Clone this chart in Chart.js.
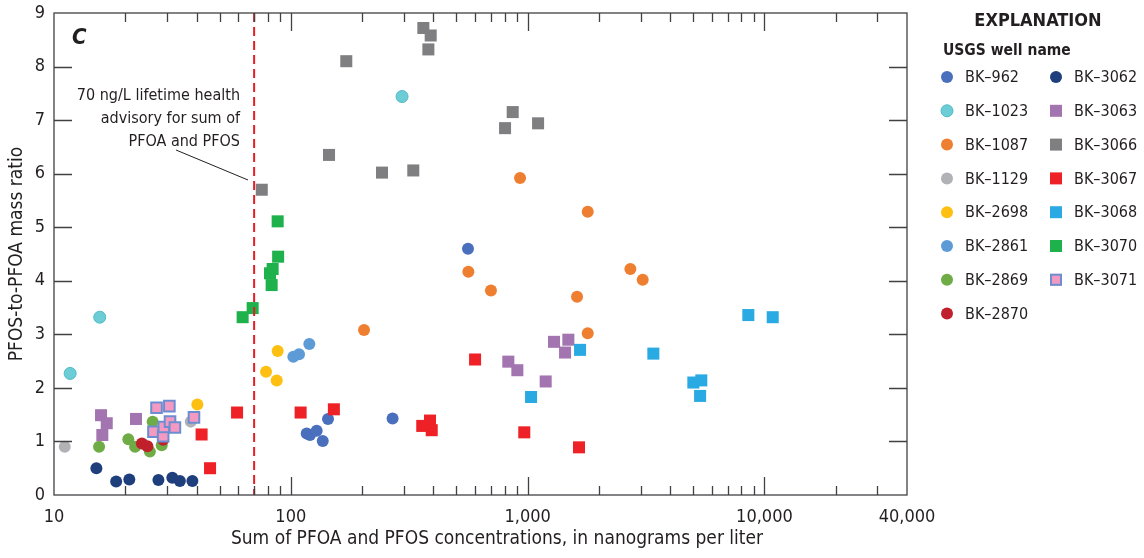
<!DOCTYPE html>
<html>
<head>
<meta charset="utf-8">
<script src="https://cdn.jsdelivr.net/npm/chart.js@4.4.1/dist/chart.umd.min.js"></script>
<style>
  html, body { margin: 0; padding: 0; background: #fff; }
  #wrap { width: 1144px; height: 558px; position: relative; }
</style>
</head>
<body>
<div id="wrap"><canvas id="chart"></canvas></div>
<script>
// [sum of PFOA+PFOS (ng/L), PFOS-to-PFOA ratio] per well
const bk962 = [[560, 4.60], [116.7, 1.15], [120.5, 1.12], [128.6, 1.20], [136.4, 1.01], [143.6, 1.42], [269, 1.43]];
const bk1023 = [[11.7, 2.27], [15.6, 3.32], [295, 7.44]];
const bk1087 = [[203.8, 3.08], [562, 4.17], [700, 3.82], [929, 5.92], [1794, 5.29], [2716, 4.22], [3062, 4.02], [1617, 3.70], [1794, 3.02]];
const bk1129 = [[11.1, 0.90], [37.8, 1.37]];
const bk2698 = [[40.3, 1.69], [78.6, 2.30], [87.2, 2.14], [88, 2.69]];
const bk2861 = [[102.5, 2.58], [108.3, 2.63], [119.7, 2.82]];
const bk2869 = [[15.5, 0.90], [20.6, 1.04], [22.0, 0.90], [25.4, 0.81], [26.1, 1.37], [28.5, 0.93]];
const bk2870 = [[23.5, 0.96], [24.8, 0.91], [28.9, 1.03]];
const bk3062 = [[15.1, 0.50], [18.3, 0.25], [20.8, 0.29], [27.6, 0.28], [31.6, 0.32], [34.0, 0.26], [38.4, 0.26]];
const bk3063 = [[15.8, 1.49], [16.7, 1.34], [16.0, 1.12], [22.2, 1.42], [829, 2.49], [905, 2.33], [1192, 2.12], [1293, 2.86], [1486, 2.90], [1439, 2.66]];
const bk3066 = [[75.4, 5.70], [145, 6.35], [171.5, 8.10], [242.7, 6.02], [329, 6.06], [362.8, 8.72], [381, 8.32], [389.7, 8.58], [803, 6.85], [865, 7.15], [1107, 6.94]];
const bk3067 = [[42.0, 1.13], [45.6, 0.50], [59.3, 1.54], [110, 1.54], [152, 1.60], [359, 1.29], [387, 1.39], [393.6, 1.21], [600, 2.53], [968, 1.17], [1648, 0.89]];
const bk3068 = [[1034, 1.83], [1665, 2.71], [3396, 2.64], [5010, 2.10], [5413, 2.14], [5350, 1.85], [8551, 3.36], [10840, 3.32]];
const bk3070 = [[62.6, 3.32], [69, 3.49], [81.7, 4.14], [83, 3.92], [83.8, 4.22], [88.4, 4.45], [88, 5.11]];
const bk3071 = [[26.3, 1.18], [27.1, 1.63], [28.9, 1.10], [29.1, 1.27], [30.7, 1.66], [30.9, 1.37], [32.4, 1.26], [39.0, 1.45]];

const wellNames = ['BK–962', 'BK–1023', 'BK–1087', 'BK–1129', 'BK–2698', 'BK–2861', 'BK–2869', 'BK–2870',
  'BK–3062', 'BK–3063', 'BK–3066', 'BK–3067', 'BK–3068', 'BK–3070', 'BK–3071'];
const wellData = [bk962, bk1023, bk1087, bk1129, bk2698, bk2861, bk2869, bk2870,
  bk3062, bk3063, bk3066, bk3067, bk3068, bk3070, bk3071];

const xTickValues = [10, 100, 1000, 10000, 40000];
const yTickValues = [0, 1, 2, 3, 4, 5, 6, 7, 8, 9];
const advisoryLevel = 70;

// styles
const fills = ['#4a6fbd', '#6ccdd6', '#ef7f30', '#b1b2b5', '#fdc012', '#5d9bd6', '#6fac46', '#c0202b',
  '#1f3f7c', '#a274b0', '#7f7f82', '#ed2126', '#29aae2', '#1fb14c', '#f49ac2'];
const borders = fills.slice();
borders[1] = '#4fbac4';
borders[14] = '#6c8ed0';
const shapes = wellNames.map((n, i) => i < 9 ? 'circle' : 'rect');

const FONT = "'Liberation Sans Narrow', 'DejaVu Sans Condensed', 'Arial Narrow', sans-serif";
const TEXT = '#231f20';
const AXIS = '#414042';

const datasets = wellNames.map((name, i) => ({
  label: name,
  data: wellData[i].map(p => ({ x: p[0], y: p[1] })),
  pointStyle: shapes[i],
  pointRadius: shapes[i] === 'rect' ? (i === 14 ? 7.5 : 8.5) : 6,
  backgroundColor: fills[i],
  borderColor: borders[i],
  borderWidth: (i === 1) ? 1 : (i === 14 ? 2 : 0),
  showLine: false,
  order: -i,
}));

const frameTicks = {
  id: 'frameTicks',
  afterDraw(chart) {
    const { ctx, chartArea: a, scales: { x, y } } = chart;
    ctx.save();
    ctx.strokeStyle = AXIS;
    ctx.lineWidth = 1.3;
    ctx.strokeRect(a.left, a.top, a.right - a.left, a.bottom - a.top);
    ctx.beginPath();
    yTickValues.forEach(v => {
      if (v === 0 || v === 9) return;
      const py = Math.round(y.getPixelForValue(v)) + 0.5;
      ctx.moveTo(a.left, py); ctx.lineTo(a.left + 18, py);
      ctx.moveTo(a.right, py); ctx.lineTo(a.right - 18, py);
    });
    for (let dec = 10; dec < 40000; dec *= 10) {
      for (let k = 1; k < 10; k++) {
        const v = k * dec;
        if (v <= 10 || v >= 40000) continue;
        const len = k === 1 ? 18 : 9;
        const px = Math.round(x.getPixelForValue(v)) + 0.5;
        ctx.moveTo(px, a.top); ctx.lineTo(px, a.top + len);
        ctx.moveTo(px, a.bottom); ctx.lineTo(px, a.bottom - len);
      }
    }
    ctx.stroke();
    // x axis title, set a little right of the plot centre as in the figure
    ctx.fillStyle = TEXT;
    ctx.font = '19px ' + FONT;
    ctx.textAlign = 'center';
    ctx.textBaseline = 'middle';
    ctx.fillText('Sum of PFOA and PFOS concentrations, in nanograms per liter', 497, 539);
    ctx.restore();
  }
};

const advisory = {
  id: 'advisory',
  afterDatasetsDraw(chart) {
    const { ctx, chartArea: a, scales: { x } } = chart;
    const px = x.getPixelForValue(advisoryLevel);
    ctx.save();
    ctx.strokeStyle = '#e31e26';
    ctx.lineWidth = 2;
    ctx.setLineDash([9, 5]);
    ctx.beginPath();
    ctx.moveTo(px, a.top);
    ctx.lineTo(px, a.bottom);
    ctx.stroke();
    ctx.setLineDash([]);
    // note and leader
    ctx.fillStyle = TEXT;
    ctx.font = '16px ' + FONT;
    ctx.textAlign = 'right';
    ctx.textBaseline = 'alphabetic';
    ctx.fillText('70 ng/L lifetime health', 240, 100);
    ctx.fillText('advisory for sum of', 240, 123);
    ctx.fillText('PFOA and PFOS', 240, 146);
    ctx.strokeStyle = TEXT;
    ctx.lineWidth = 1;
    ctx.beginPath();
    ctx.moveTo(176, 150);
    ctx.lineTo(248, 180);
    ctx.stroke();
    // panel letter
    ctx.textAlign = 'left';
    ctx.font = 'italic bold 22px ' + FONT;
    ctx.fillText('C', 72, 44);
    ctx.restore();
  }
};

const explanation = {
  id: 'explanation',
  afterDraw(chart) {
    const ctx = chart.ctx;
    ctx.save();
    ctx.fillStyle = TEXT;
    ctx.textBaseline = 'alphabetic';
    ctx.textAlign = 'center';
    ctx.font = 'bold 18px ' + FONT;
    ctx.fillText('EXPLANATION', 1038, 26);
    ctx.textAlign = 'left';
    ctx.font = 'bold 15.5px ' + FONT;
    ctx.fillText('USGS well name', 943, 55);
    ctx.font = '16px ' + FONT;
    ctx.textBaseline = 'middle';
    wellNames.forEach((name, i) => {
      const col = i < 8 ? 0 : 1;
      const row = i < 8 ? i : i - 8;
      const mx = col ? 1056 : 947;
      const tx = col ? 1074 : 965;
      const cy = 77 + row * 33.8;
      ctx.fillStyle = fills[i];
      ctx.strokeStyle = borders[i];
      ctx.beginPath();
      if (shapes[i] === 'circle') {
        ctx.arc(mx, cy, 6, 0, Math.PI * 2);
      } else {
        ctx.rect(mx - 6, cy - 6, 12, 12);
      }
      ctx.fill();
      if (i === 1 || i === 14) {
        ctx.lineWidth = i === 14 ? 2 : 1;
        if (i === 14) { ctx.beginPath(); ctx.rect(mx - 5, cy - 5, 10, 10); ctx.fill(); }
        ctx.stroke();
      }
      ctx.fillStyle = TEXT;
      ctx.fillText(name, tx, cy + 1);
    });
    ctx.restore();
  }
};

new Chart(document.getElementById('chart'), {
  type: 'scatter',
  data: { datasets },
  plugins: [advisory, frameTicks, explanation],
  options: {
    responsive: true,
    maintainAspectRatio: false,
    animation: false,
    layout: { padding: { left: 0, right: 237, top: 13, bottom: 0 } },
    plugins: { legend: { display: false }, tooltip: { enabled: false } },
    scales: {
      x: {
        type: 'logarithmic',
        min: 10,
        max: 40000,
        grid: { display: false, drawTicks: false },
        border: { display: false },
        afterBuildTicks: s => { s.ticks = xTickValues.map(v => ({ value: v })); },
        afterFit: s => { s.height = 63; s.paddingLeft = 0; s.paddingRight = 0; },
        ticks: {
          autoSkip: false, maxRotation: 0, padding: 12, color: TEXT,
          font: { family: FONT, size: 18 },
          callback: v => Number(v).toLocaleString('en-US'),
        },
      },
      y: {
        min: 0,
        max: 9,
        grid: { display: false, drawTicks: false },
        border: { display: false },
        afterBuildTicks: s => { s.ticks = yTickValues.map(v => ({ value: v })); },
        afterFit: s => { s.width = 54; s.paddingTop = 0; s.paddingBottom = 0; },
        ticks: { padding: 9, color: TEXT, font: { family: FONT, size: 18 } },
        title: {
          display: true, color: TEXT,
          text: 'PFOS-to-PFOA mass ratio',
          font: { family: FONT, size: 19 },
          padding: { top: 6, bottom: 0 },
        },
      },
    },
  },
});
</script>
</body>
</html>
